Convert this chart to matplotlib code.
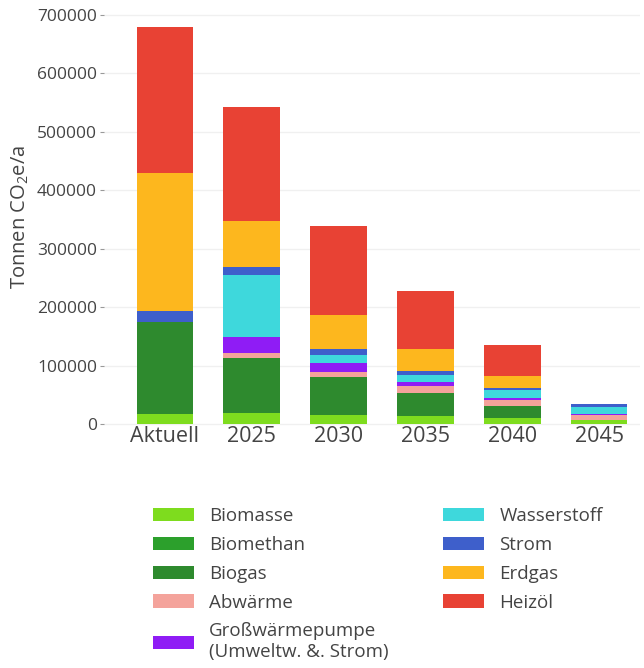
import matplotlib as mpl
mpl.use('Agg')
import matplotlib.pyplot as plt
import numpy as np

plt.rcParams['font.family'] = ['Open Sans', 'DejaVu Sans']
plt.rcParams['mathtext.fontset'] = 'custom'
plt.rcParams['mathtext.rm'] = 'Open Sans'
plt.rcParams['mathtext.it'] = 'Open Sans'

# Daten (Tonnen CO2e/a), von unten nach oben gestapelt
categories = ['Aktuell', '2025', '2030', '2035', '2040', '2045']
biomasse = [18000, 19000, 16600, 14900, 11500, 7100]
biomethan = [0, 0, 0, 0, 0, 0]
biogas = [157000, 93500, 63400, 38700, 19900, 0]
abwaerme = [0, 9000, 9000, 11400, 10900, 9100]
grosswp = [0, 28500, 15000, 7000, 3400, 2000]
wasserstoff = [0, 105500, 15000, 13000, 13100, 12100]
strom = [18500, 13000, 10000, 5700, 4000, 5000]
erdgas = [236500, 80000, 57600, 37700, 19200, 0]
heizoel = [249000, 194000, 152400, 99600, 53300, 0]

series = [
    ('Biomasse', biomasse, '#7EDC1E'),
    ('Biomethan', biomethan, '#2CA02C'),
    ('Biogas', biogas, '#2E8A2E'),
    ('Abwärme', abwaerme, '#F4A39B'),
    ('Großwärmepumpe\n(Umweltw. &. Strom)', grosswp, '#8F1CF5'),
    ('Wasserstoff', wasserstoff, '#3ED8DC'),
    ('Strom', strom, '#3E5FCB'),
    ('Erdgas', erdgas, '#FDB71E'),
    ('Heizöl', heizoel, '#E84234'),
]

text_col = '#444444'

fig = plt.figure(figsize=(6.44, 6.68), dpi=100)
ax = fig.add_axes([104 / 644, (668 - 426) / 668, (640 - 104) / 644, (426 - 8) / 668])

x = np.arange(len(categories))
bottom = np.zeros(len(categories))
for label, vals, col in series:
    vals = np.array(vals, dtype=float)
    ax.bar(x, vals, width=0.65, bottom=bottom, color=col, label=label, zorder=2)
    bottom += vals

ax.set_xlim(-0.70, 5.47)
ax.set_ylim(-3000, 712000)
ax.set_yticks(np.arange(0, 700001, 100000))
ax.set_yticklabels([str(v) for v in range(0, 700001, 100000)])
ax.set_xticks(x)
ax.set_xticklabels(categories)

ax.grid(axis='y', color='#f0f0f0', linewidth=1, zorder=0)
for spine in ax.spines.values():
    spine.set_visible(False)

ax.tick_params(axis='y', colors='#999999', labelcolor=text_col, labelsize=12.5, length=3, pad=2)
ax.tick_params(axis='x', length=0, labelcolor=text_col, labelsize=15.5, pad=0)

ax.set_ylabel(r'Tonnen CO$_\mathrm{2}$e/a', fontsize=14.5, color=text_col, labelpad=4)

fig.legend(loc='upper left', bbox_to_anchor=(136 / 644, 1 - 490 / 668), ncol=2,
           frameon=False, fontsize=13.5, labelcolor=text_col,
           handlelength=2.2, handleheight=0.7, handletextpad=0.8,
           labelspacing=0.58, columnspacing=2.9)

plt.savefig('out.png', dpi=100, facecolor='white')
plt.close()
